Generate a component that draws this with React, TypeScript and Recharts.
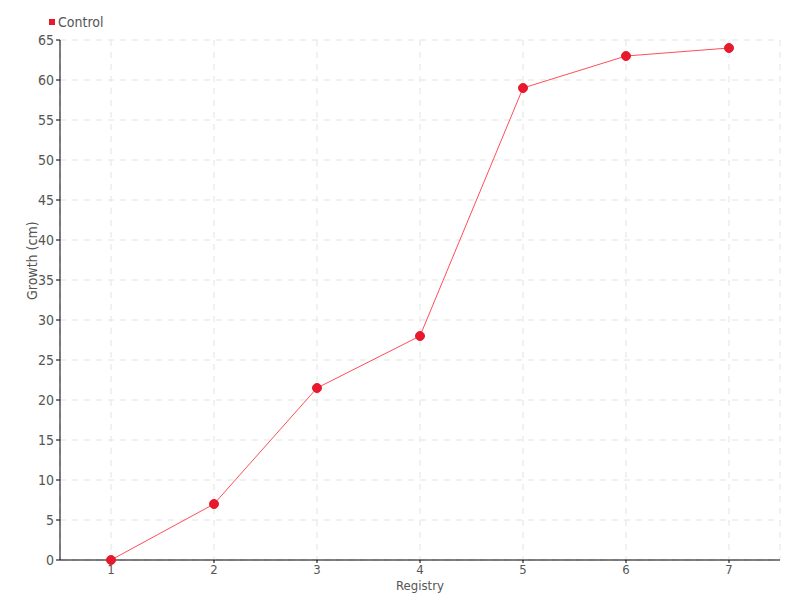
import { LineChart, Line, XAxis, YAxis, CartesianGrid } from 'recharts';

const registry = ['1', '2', '3', '4', '5', '6', '7'];
const control = [0, 7, 21.5, 28, 59, 63, 64];
const yTicks = [0, 5, 10, 15, 20, 25, 30, 35, 40, 45, 50, 55, 60, 65];

const chartData = registry.map((r, i) => ({ registry: r, control: control[i] }));

const font = '"Liberation Sans Narrow", "DejaVu Sans Condensed", sans-serif';

export default function App() {
  return (
    <div style={{ position: 'absolute', left: 0, top: 0, width: 800, height: 600, background: '#fff' }}>
      <div
        style={{
          position: 'absolute', left: 49, top: 13, display: 'flex', alignItems: 'center',
          fontFamily: font, fontSize: 14, color: '#555', lineHeight: '18px',
        }}
      >
        <span style={{ width: 6, height: 6, background: '#e8192c', display: 'inline-block', marginRight: 3 }} />
        Control
      </div>
      <LineChart width={800} height={600} data={chartData} margin={{ top: 40, right: 20, bottom: 0, left: 0 }}>
        <CartesianGrid stroke="#e3e3e3" strokeDasharray="6 6" />
        <XAxis
          dataKey="registry"
          stroke="#000"
          padding={{ left: 51, right: 51 }}
          tick={{ fill: '#555', fontFamily: font, fontSize: 13 }}
          tickSize={3}
          height={40}
          label={{ value: 'Registry', position: 'insideBottom', offset: 10, fill: '#555', fontFamily: font, fontSize: 13 }}
        />
        <YAxis
          domain={[0, 65]}
          ticks={yTicks}
          stroke="#000"
          width={60}
          tickSize={4}
          interval={0}
          tick={{ fill: '#555', fontFamily: font, fontSize: 14 }}
          label={{ value: 'Growth (cm)', angle: -90, position: 'insideLeft', offset: 32, fill: '#555', fontFamily: font, fontSize: 14 }}
        />
        <Line
          dataKey="control"
          name="Control"
          type="linear"
          stroke="#ff4d5a"
          strokeWidth={1}
          dot={{ r: 4.5, fill: '#e8192c', stroke: '#e8192c', strokeWidth: 1 }}
          activeDot={false}
          isAnimationActive={false}
        />
      </LineChart>
    </div>
  );
}
